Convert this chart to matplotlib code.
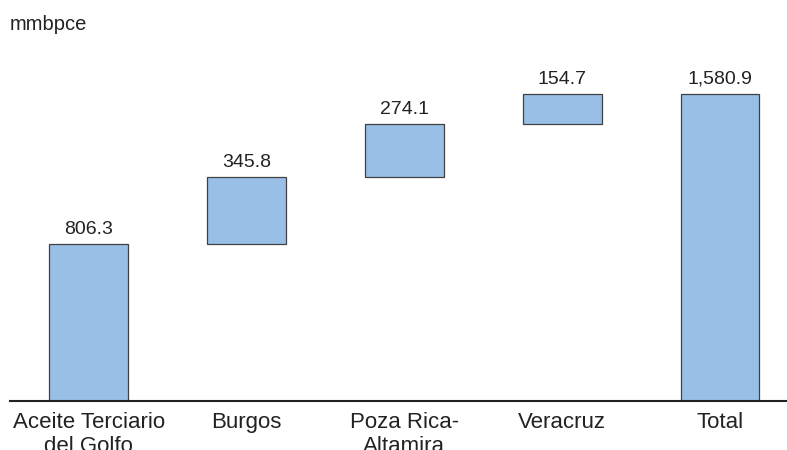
import matplotlib
matplotlib.use("Agg")
import matplotlib.pyplot as plt

plt.rcParams['font.family'] = ['Liberation Sans', 'DejaVu Sans']

categories = ["Aceite Terciario\ndel Golfo", "Burgos", "Poza Rica-\nAltamira", "Veracruz", "Total"]
increments = [806.3, 345.8, 274.1, 154.7]
total = 1580.9
value_labels = ["806.3", "345.8", "274.1", "154.7", "1,580.9"]

# floating bases for the waterfall steps, total bar starts at zero
bases = []
running = 0.0
for v in increments:
    bases.append(running)
    running += v
heights = increments + [total]
bases = bases + [0.0]

fig = plt.figure(figsize=(7.87, 4.5), dpi=100)
W, H = 787, 450
ax = fig.add_axes([10 / W, (H - 401) / H, (787 - 10) / W, (401 - 60) / H])

x = list(range(len(categories)))
ax.bar(x, heights, bottom=bases, width=0.5, color="#99BFE6",
       edgecolor="#404040", linewidth=0.9)

for xi, b, h, lab in zip(x, bases, heights, value_labels):
    ax.annotate(lab, (xi, b + h), xytext=(0, 4.5), textcoords="offset points",
                ha="center", va="bottom", fontsize=14, color="#222222")

px_per_unit = 307 / total
ax.set_ylim(0, (401 - 60) / px_per_unit)
ax.set_xlim(-0.5, 4.425)

ax.set_xticks(x)
ax.set_xticklabels(categories, fontsize=16, color="#222222", linespacing=1.2)
ax.tick_params(axis="x", length=0, pad=8)
ax.set_yticks([])
for s in ["top", "right", "left"]:
    ax.spines[s].set_visible(False)
ax.spines["bottom"].set_color("#222222")
ax.spines["bottom"].set_linewidth(1.5)

fig.text(10 / W, 1 - 24 / H, "mmbpce", fontsize=14.5, color="#222222",
         ha="left", va="center")

fig.savefig("out.png", dpi=100)
